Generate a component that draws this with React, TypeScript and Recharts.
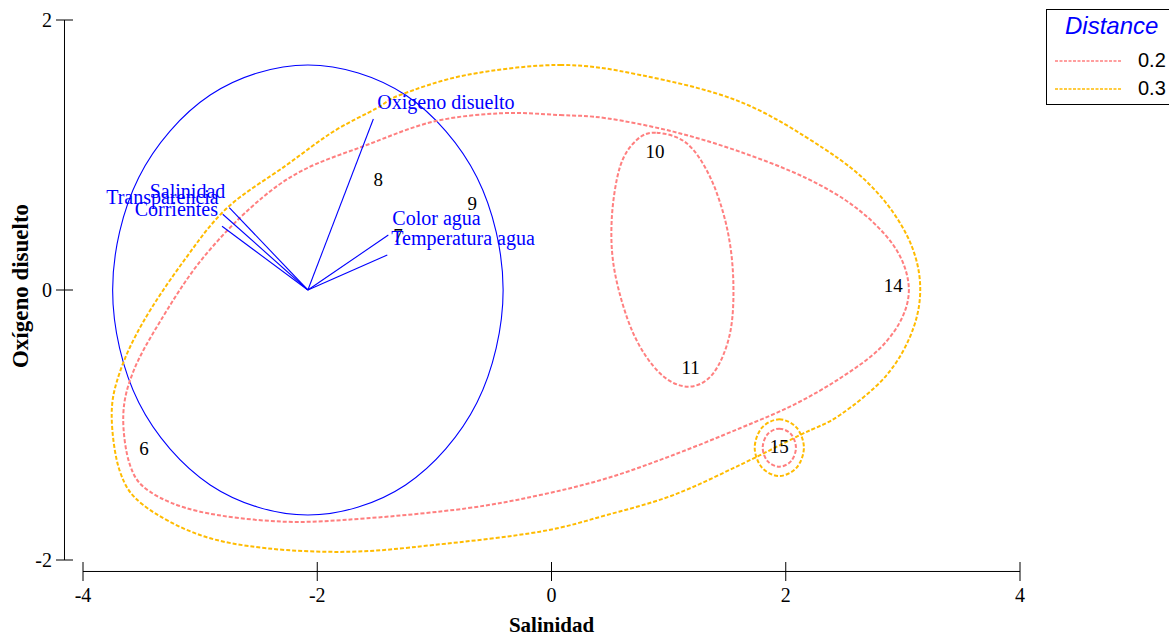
import React from 'react';
import { ComposedChart, XAxis, YAxis, Line, Scatter, ReferenceLine, Legend } from 'recharts';

// ---------- data ----------
const xTicks = [-4, -2, 0, 2, 4];
const yTicks = [-2, 0, 2];
const xTitle = 'Salinidad';
const yTitle = 'Oxígeno disuelto';

// biplot arrows (variables)
const arrowOrigin = { x: -2.08, y: 0 };
const variableNames = ['Oxigeno disuelto', 'Salinidad', 'Transparencia', 'Corrientes', 'Color agua', 'Temperatura agua'];
const variableX = [-1.521, -2.751, -2.807, -2.813, -1.393, -1.402];
const variableY = [1.267, 0.61, 0.561, 0.472, 0.407, 0.259];

// sites
const siteLabels = ['6', '7', '8', '9', '10', '11', '14', '15'];
const siteX = [-3.479, -1.311, -1.479, -0.676, 0.884, 1.188, 2.918, 1.945];
const siteY = [-1.173, 0.411, 0.822, 0.647, 1.032, -0.568, 0.037, -1.156];

// correlation circle (read around the outline)
const circleOutline: [number, number][] = [
  [-2.08, 1.667], [-1.246, 1.444], [-0.636, 0.834], [-0.413, 0], [-0.636, -0.834], [-1.246, -1.444],
  [-2.08, -1.667], [-2.914, -1.444], [-3.524, -0.834], [-3.747, 0], [-3.524, 0.834], [-2.914, 1.444],
];

// cluster outlines at distance 0.3
const hull03Main: [number, number][] = [
  [0.073, 1.667], [0.756, 1.593], [1.609, 1.395], [2.321, 1.05], [2.748, 0.753], [3.033, 0.407],
  [3.146, 0.061], [3.089, -0.284], [2.862, -0.63], [2.463, -0.926], [2.122, -1.074], [1.609, -1.296],
  [1.04, -1.519], [0.471, -1.667], [-0.098, -1.79], [-1.009, -1.889], [-1.72, -1.939], [-2.432, -1.913],
  [-3.001, -1.815], [-3.485, -1.593], [-3.684, -1.346], [-3.755, -0.926], [-3.684, -0.605], [-3.485, -0.235],
  [-3.144, 0.21], [-2.773, 0.605], [-2.261, 0.926], [-1.863, 1.173], [-1.492, 1.346], [-1.293, 1.444],
  [-0.724, 1.593],
];
const hull03Site15: [number, number][] = [
  [1.945, -0.958], [2.093, -1.02], [2.155, -1.168], [2.093, -1.316], [1.945, -1.378], [1.797, -1.316],
  [1.735, -1.168], [1.797, -1.02],
];

// cluster outlines at distance 0.2
const hull02Main: [number, number][] = [
  [0.073, 1.296], [0.471, 1.272], [1.04, 1.173], [1.609, 1.024], [2.179, 0.827], [2.606, 0.605],
  [2.918, 0.333], [3.046, 0.061], [3.004, -0.185], [2.805, -0.432], [2.463, -0.654], [2.064, -0.852],
  [1.609, -1.024], [1.04, -1.222], [0.471, -1.395], [-0.098, -1.519], [-0.724, -1.617], [-1.578, -1.691],
  [-2.29, -1.716], [-3.001, -1.642], [-3.428, -1.494], [-3.599, -1.296], [-3.656, -0.926], [-3.571, -0.605],
  [-3.343, -0.235], [-3.001, 0.21], [-2.574, 0.605], [-2.147, 0.876], [-1.578, 1.074], [-1.009, 1.247],
  [-0.44, 1.309],
];
const hull02Sites1011: [number, number][] = [
  [0.898, 1.165], [1.154, 1.087], [1.353, 0.839], [1.496, 0.469], [1.552, 0.074], [1.524, -0.321],
  [1.381, -0.617], [1.168, -0.716], [0.926, -0.617], [0.698, -0.321], [0.542, 0.124], [0.514, 0.519],
  [0.585, 0.913], [0.727, 1.111],
];
const hull02Site15: [number, number][] = [
  [1.945, -1.027], [2.045, -1.068], [2.087, -1.168], [2.045, -1.268], [1.945, -1.309], [1.845, -1.268],
  [1.803, -1.168], [1.845, -1.068],
];

const distanceLevels = ['0.2', '0.3'];
const levelColors = ['#FF7F7F', '#FFBB00'];

// ---------- helpers ----------
const SERIF = '"Liberation Serif", "Times New Roman", serif';
const SANS = '"Liberation Sans", Arial, sans-serif';
const BLUE = '#0000FF';

const toPts = (arr: [number, number][]) => arr.map(([x, y]) => ({ x, y }));

// closed Catmull-Rom curve through the given outline points
const closedCatmull = (context: any) => {
  let pts: number[][] = [];
  return {
    areaStart() {},
    areaEnd() {},
    lineStart() {
      pts = [];
    },
    point(x: number, y: number) {
      pts.push([+x, +y]);
    },
    lineEnd() {
      const n = pts.length;
      if (n < 3) return;
      context.moveTo(pts[0][0], pts[0][1]);
      for (let i = 0; i < n; i++) {
        const p0 = pts[(i - 1 + n) % n];
        const p1 = pts[i];
        const p2 = pts[(i + 1) % n];
        const p3 = pts[(i + 2) % n];
        context.bezierCurveTo(
          p1[0] + (p2[0] - p0[0]) / 6,
          p1[1] + (p2[1] - p0[1]) / 6,
          p2[0] - (p3[0] - p1[0]) / 6,
          p2[1] - (p3[1] - p1[1]) / 6,
          p2[0],
          p2[1]
        );
      }
      context.closePath();
    },
  };
};

const variableData = variableNames.map((name, i) => ({ name, x: variableX[i], y: variableY[i] }));
const siteData = siteLabels.map((label, i) => ({ label, x: siteX[i], y: siteY[i] }));

const hulls = [
  { key: 'h03a', pts: hull03Main, color: levelColors[1] },
  { key: 'h03b', pts: hull03Site15, color: levelColors[1] },
  { key: 'h02a', pts: hull02Main, color: levelColors[0] },
  { key: 'h02b', pts: hull02Sites1011, color: levelColors[0] },
  { key: 'h02c', pts: hull02Site15, color: levelColors[0] },
];

const XTick = (props: any) => {
  const { x, y, payload } = props;
  return (
    <g>
      <line x1={x} x2={x} y1={y + 2} y2={y + 21} stroke="#000" strokeWidth={1} />
      <text x={x} y={y + 41.5} textAnchor="middle" fontFamily={SERIF} fontSize={20} fill="#000">
        {payload.value}
      </text>
    </g>
  );
};

const YTick = (props: any) => {
  const { x, y, payload } = props;
  return (
    <g>
      <line x1={x - 27} x2={x - 10} y1={y} y2={y} stroke="#000" strokeWidth={1} />
      <text x={x - 31} y={y + 6.5} textAnchor="end" fontFamily={SERIF} fontSize={20} fill="#000">
        {payload.value}
      </text>
    </g>
  );
};

const VarLabel = (props: any) => {
  const { cx, cy, payload } = props;
  const right = payload.x > arrowOrigin.x;
  return (
    <text
      x={cx + (right ? 4 : -4)}
      y={cy - 10}
      textAnchor={right ? 'start' : 'end'}
      fontFamily={SERIF}
      fontSize={20}
      fill={BLUE}
    >
      {payload.name}
    </text>
  );
};

const SiteLabel = (props: any) => {
  const { cx, cy, payload } = props;
  return (
    <text x={cx} y={cy + 7} textAnchor="middle" fontFamily={SERIF} fontSize={19} fill="#000">
      {payload.label}
    </text>
  );
};

const LegendBox = () => (
  <svg width={140} height={100} style={{ display: 'block', overflow: 'visible' }}>
    <rect x={0.5} y={0.5} width={138} height={95} fill="#fff" stroke="#000" strokeWidth={1} />
    <text x={19} y={25} fontFamily={SANS} fontStyle="italic" fontSize={24} fill={BLUE}>
      Distance
    </text>
    {distanceLevels.map((lvl, i) => (
      <g key={lvl}>
        <line
          x1={9}
          x2={76}
          y1={52 + 28 * i}
          y2={52 + 28 * i}
          stroke={levelColors[i]}
          strokeWidth={1.4}
          strokeDasharray="3 1.5"
        />
        <text x={92} y={58 + 28 * i} fontFamily={SANS} fontSize={20} fill="#000">
          {lvl}
        </text>
      </g>
    ))}
  </svg>
);

export default function App() {
  return (
    <div style={{ position: 'absolute', left: 0, top: 0, width: 1169, height: 636, overflow: 'hidden', background: '#fff' }}>
      <ComposedChart width={1169} height={636} margin={{ top: 20, right: 149, bottom: 0, left: 0 }}>
        <XAxis
          type="number"
          dataKey="x"
          domain={[-4, 4]}
          ticks={xTicks}
          interval={0}
          allowDataOverflow
          axisLine={false}
          tickLine={false}
          tickSize={0}
          tickMargin={0}
          height={76}
          tick={<XTick />}
          label={{
            content: (p: any) => {
              const vb = p.viewBox || { x: 83, y: 560, width: 937, height: 76 };
              return (
                <text
                  x={vb.x + vb.width / 2}
                  y={vb.y + 72}
                  textAnchor="middle"
                  fontFamily={SERIF}
                  fontWeight="bold"
                  fontSize={21}
                  fill="#000"
                >
                  {xTitle}
                </text>
              );
            },
          }}
        />
        <YAxis
          type="number"
          dataKey="y"
          domain={[-2, 2]}
          ticks={yTicks}
          interval={0}
          allowDataOverflow
          axisLine={false}
          tickLine={false}
          tickSize={0}
          tickMargin={0}
          width={83}
          tick={<YTick />}
          label={{
            content: (p: any) => {
              const vb = p.viewBox || { x: 0, y: 20, width: 83, height: 540 };
              const cx = vb.x + 28;
              const cy = vb.y + vb.height / 2 - 4;
              return (
                <text
                  x={cx}
                  y={cy}
                  transform={`rotate(-90 ${cx} ${cy})`}
                  textAnchor="middle"
                  fontFamily={SERIF}
                  fontWeight="bold"
                  fontSize={23}
                  fill="#000"
                >
                  {yTitle}
                </text>
              );
            },
          }}
        />
        <ReferenceLine
          segment={[{ x: -4, y: -2.085 }, { x: 4, y: -2.085 }]}
          stroke="#000"
          strokeWidth={1}
          ifOverflow="visible"
        />
        <ReferenceLine
          segment={[{ x: -4.158, y: -2 }, { x: -4.158, y: 2 }]}
          stroke="#000"
          strokeWidth={1}
          ifOverflow="visible"
        />
        <Line
          data={toPts(circleOutline)}
          dataKey="y"
          type={closedCatmull as any}
          stroke={BLUE}
          strokeWidth={1.1}
          dot={false}
          activeDot={false}
          isAnimationActive={false}
          legendType="none"
        />
        {hulls.map((h) => (
          <Line
            key={h.key}
            data={toPts(h.pts)}
            dataKey="y"
            type={closedCatmull as any}
            stroke={h.color}
            strokeWidth={2}
            strokeDasharray="4 2"
            dot={false}
            activeDot={false}
            isAnimationActive={false}
            legendType="none"
          />
        ))}
        {variableData.map((v) => (
          <Line
            key={v.name}
            data={[{ x: arrowOrigin.x, y: arrowOrigin.y }, { x: v.x, y: v.y }]}
            dataKey="y"
            type="linear"
            stroke={BLUE}
            strokeWidth={1.1}
            dot={false}
            activeDot={false}
            isAnimationActive={false}
            legendType="none"
          />
        ))}
        <Scatter data={siteData} dataKey="y" shape={<SiteLabel />} isAnimationActive={false} legendType="none" />
        <Scatter data={variableData} dataKey="y" shape={<VarLabel />} isAnimationActive={false} legendType="none" />
        <Legend
          layout="vertical"
          align="center"
          verticalAlign="middle"
          content={() => <LegendBox />}
          wrapperStyle={{ left: 1046, top: 9, width: 140, height: 100 }}
        />
      </ComposedChart>
    </div>
  );
}
